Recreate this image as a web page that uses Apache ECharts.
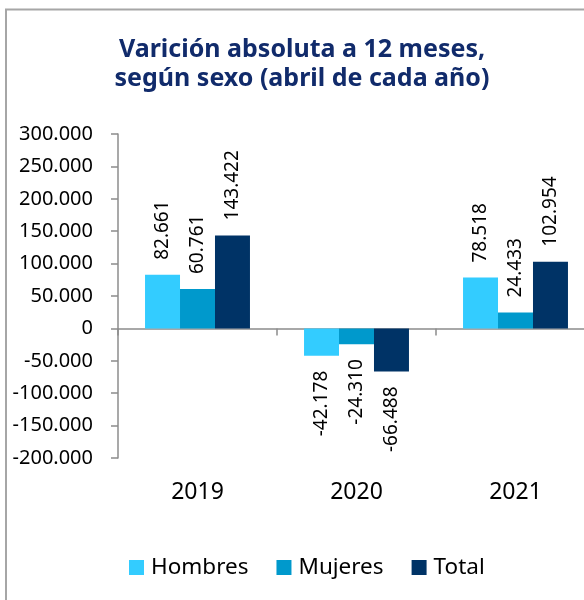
<!DOCTYPE html>
<html><head><meta charset="utf-8">
<script src="https://cdn.jsdelivr.net/npm/echarts@6/dist/echarts.min.js"></script>
<style>html,body{margin:0;padding:0;background:#fff;overflow:hidden;width:584px;height:600px}#c{width:595px;height:600px}</style>
</head><body><div id="c"></div>
<script>
const categories = ['2019', '2020', '2021'];
const hombres = [82661, -42178, 78518];
const mujeres = [60761, -24310, 24433];
const total = [143422, -66488, 102954];
const seriesNames = ['Hombres', 'Mujeres', 'Total'];
const seriesColors = ['#33CCFF', '#0099CC', '#003366'];
const yMin = -200000, yMax = 300000, yStep = 50000;
const titleLines = ['Varición absoluta a 12 meses,', 'según sexo (abril de cada año)'];

const FONT = '"Noto Sans", "Open Sans", sans-serif';
function fmt(v) {
  const s = Math.abs(Math.round(v)).toString().replace(/\B(?=(\d{3})+(?!\d))/g, '.');
  return (v < 0 ? '-' : '') + s;
}
function mkData(arr) {
  return arr.map(v => ({
    value: v,
    label: { position: v >= 0 ? 'top' : 'bottom', align: v >= 0 ? 'left' : 'right' }
  }));
}
const seriesValues = [hombres, mujeres, total];

const chart = echarts.init(document.getElementById('c'), null, { renderer: 'canvas' });
chart.setOption({
  animation: false,
  backgroundColor: '#fff',
  graphic: [
    { type: 'rect', shape: { x: 6, y: 9.5, width: 700, height: 700 }, style: { fill: 'none', stroke: '#a6a6a6', lineWidth: 2 }, silent: true, z: 0 },
    { type: 'text', x: 302, y: 35, style: { text: titleLines.join('\n'), fill: '#112B6B', font: 'bold 25px ' + FONT, align: 'center', verticalAlign: 'top', lineHeight: 29 }, z: 10 }
  ],
  legend: {
    data: seriesNames,
    left: 124, top: 551,
    icon: 'rect', itemWidth: 15, itemHeight: 15, itemGap: 28, itemStyle: { borderWidth: 0 },
    textStyle: { fontFamily: FONT, fontSize: 22.5, color: '#000', padding: [0, 0, 0, 2] }
  },
  grid: { left: 118, right: 0, top: 134, bottom: 142, containLabel: false },
  xAxis: [
    {
      type: 'category', data: categories, position: 'bottom',
      axisLine: { show: false, onZero: false }, axisTick: { show: false },
      axisLabel: { fontFamily: FONT, fontSize: 23, color: '#000', margin: 23 }
    },
    {
      type: 'category', data: categories, position: 'top',
      axisLine: { show: true, onZero: true, lineStyle: { color: '#8c8c8c', width: 1.5 } },
      axisTick: { show: true, inside: true, length: 7, lineStyle: { color: '#8c8c8c', width: 1.5 } },
      axisLabel: { show: false }
    }
  ],
  yAxis: {
    type: 'value', min: yMin, max: yMax, interval: yStep,
    axisLine: { show: true, lineStyle: { color: '#8c8c8c', width: 1.5 } },
    axisTick: { show: true, length: 7, lineStyle: { color: '#8c8c8c', width: 1.5 } },
    splitLine: { show: false },
    axisLabel: { fontFamily: FONT, fontSize: 20, color: '#000', margin: 25, formatter: fmt }
  },
  series: seriesNames.map((name, i) => ({
    name: name, type: 'bar', xAxisIndex: 0,
    data: mkData(seriesValues[i]),
    barGap: '0%', barCategoryGap: '34%',
    itemStyle: { color: seriesColors[i] },
    label: {
      show: true, rotate: 90, verticalAlign: 'middle', distance: 15,
      fontFamily: FONT, fontSize: 19, color: '#000',
      formatter: p => fmt(p.value)
    }
  }))
});
</script></body></html>
